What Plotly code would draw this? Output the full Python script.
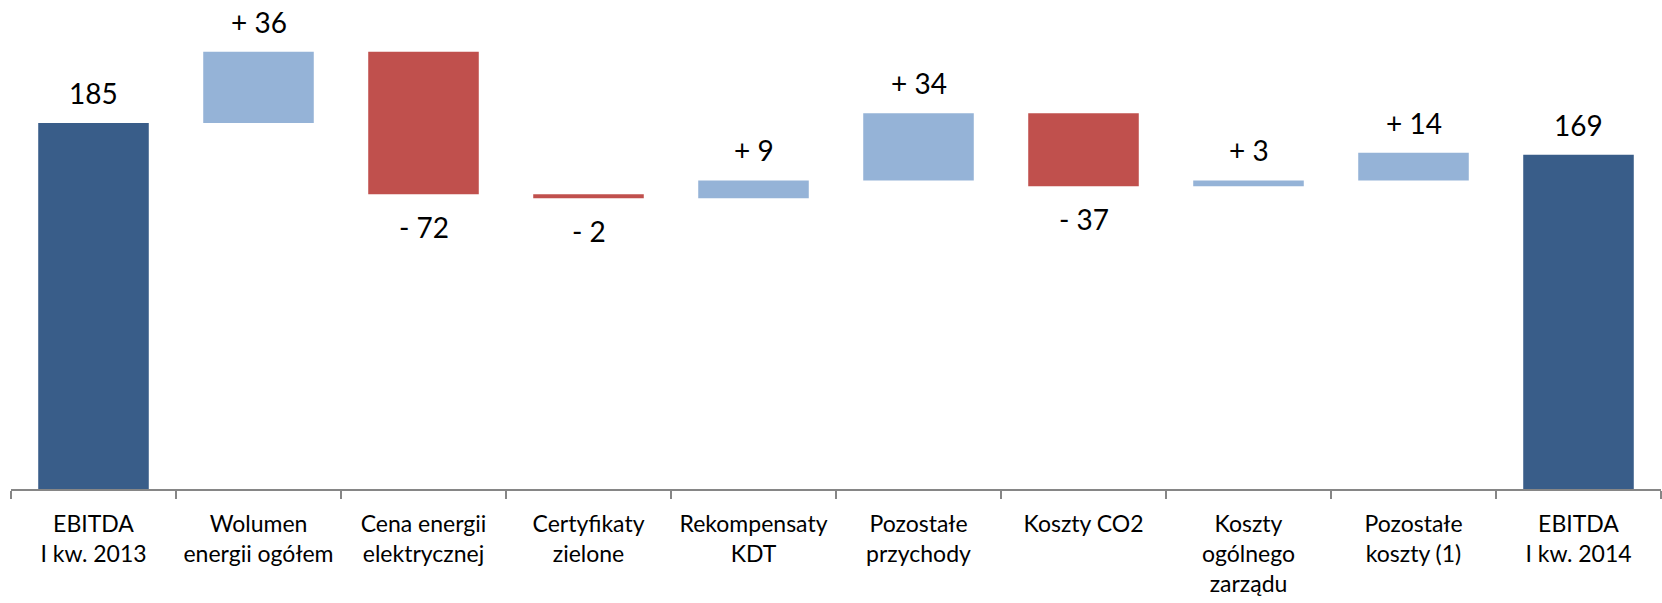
import plotly.graph_objects as go

categories = [
    "EBITDA<br>I kw. 2013",
    "Wolumen<br>energii ogółem",
    "Cena energii<br>elektrycznej",
    "Certyfikaty<br>zielone",
    "Rekompensaty<br>KDT",
    "Pozostałe<br>przychody",
    "Koszty CO2",
    "Koszty<br>ogólnego<br>zarządu",
    "Pozostałe<br>koszty (1)",
    "EBITDA<br>I kw. 2014",
]
values = [185, 36, -72, -2, 9, 34, -37, 3, 14, 169]
measures = ["absolute"] + ["relative"] * 8 + ["absolute"]

DARK = "#395D89"
LIGHT = "#95B3D7"
RED = "#C0504D"
FONT = "Lato"

fig = go.Figure(go.Waterfall(
    x=categories, y=values, measure=measures,
    width=0.67,
    totals=dict(marker=dict(color=DARK)),
    increasing=dict(marker=dict(color=LIGHT)),
    decreasing=dict(marker=dict(color=RED)),
    connector=dict(visible=False),
    hoverinfo="x+y",
))

# value labels above rising bars, below falling ones
running = 0
for cat, v, m in zip(categories, values, measures):
    if m == "absolute":
        running = v
        fig.add_annotation(x=cat, y=running, text=str(v), showarrow=False,
                           yanchor="middle", yshift=30)
    else:
        running += v
        if v >= 0:
            fig.add_annotation(x=cat, y=running, text=f"+ {v}", showarrow=False,
                               yanchor="middle", yshift=30)
        else:
            fig.add_annotation(x=cat, y=running, text=f"- {abs(v)}", showarrow=False,
                               yanchor="middle", yshift=-33)

fig.update_annotations(font=dict(family=FONT, size=28, color="#000000"))

fig.update_layout(
    width=1662, height=603,
    margin=dict(l=11, r=1, t=0, b=114),
    paper_bgcolor="white", plot_bgcolor="white",
    showlegend=False,
    font=dict(family=FONT, color="#000000"),
    xaxis=dict(
        showline=True, linecolor="#868686", linewidth=1.5,
        ticks="outside", tickson="boundaries", ticklen=8, tickcolor="#868686", tickwidth=1.5,
        tickfont=dict(family=FONT, size=23, color="#000000"), tickangle=0,
        ticklabelstandoff=14, automargin=False,
        showgrid=False,
    ),
    yaxis=dict(range=[0, 247.2], visible=False, showgrid=False, zeroline=False),
)

# drop the default page margin so the figure sits at the window's corner
fig.write_html("out.html", config={"displayModeBar": False},
               post_script="document.body.style.margin='0';")
